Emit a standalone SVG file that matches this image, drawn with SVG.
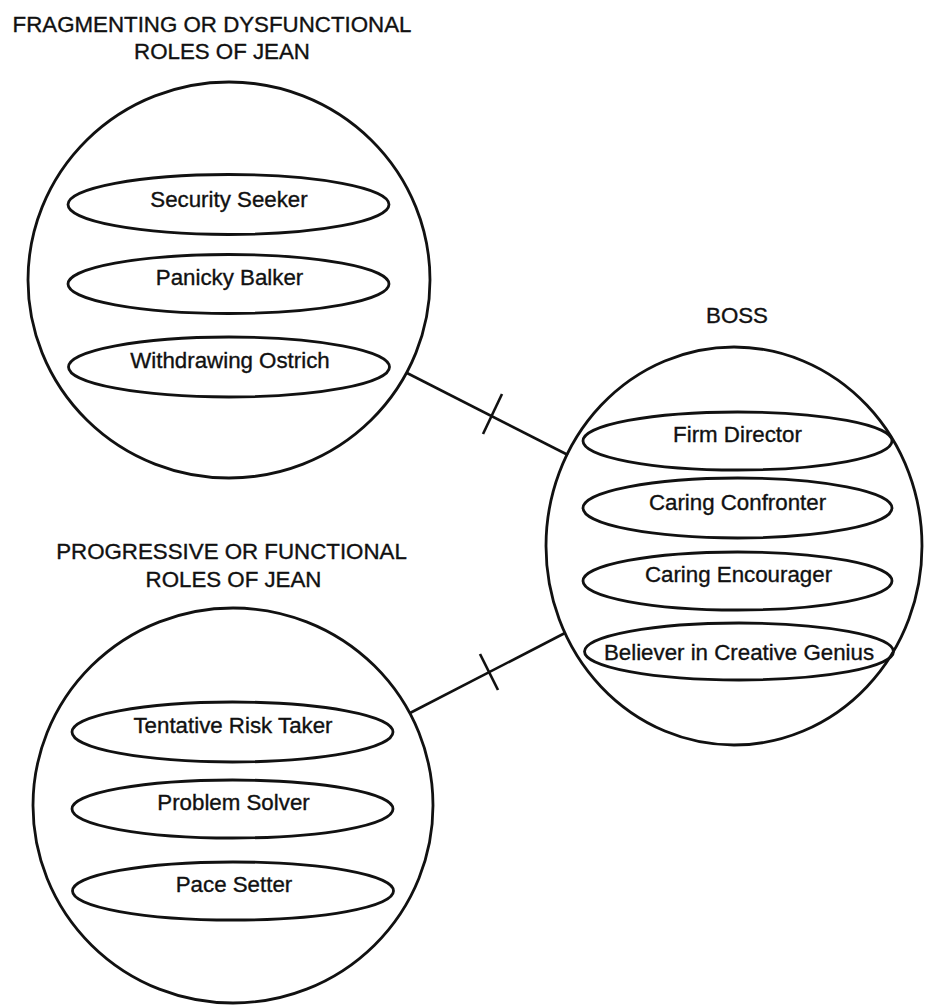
<svg xmlns="http://www.w3.org/2000/svg" width="943" height="1005" viewBox="0 0 943 1005">
<style>
  .bg { fill: #ffffff; }
  .outer { fill: none; stroke: #111; stroke-width: 2.8; }
  .role { fill: none; stroke: #111; stroke-width: 2.8; }
  .conn { fill: none; stroke: #111; stroke-width: 2.6; }
  text { font-family: "Liberation Sans", Arial, sans-serif; font-size: 22.3px; fill: #111; stroke: #111; stroke-width: 0.35; text-anchor: middle; }
</style>
<rect class="bg" x="0" y="0" width="943" height="1005"/>

<g id="connectors">
  <line class="conn" x1="407" y1="373" x2="568" y2="455"/>
  <line class="conn" x1="502" y1="394" x2="483" y2="434"/>
  <line class="conn" x1="410" y1="713" x2="565" y2="633"/>
  <line class="conn" x1="480" y1="654" x2="498" y2="690"/>
</g>

<g id="dysfunctional">
  <text x="212" y="32">FRAGMENTING OR DYSFUNCTIONAL</text>
  <text x="222" y="59">ROLES OF JEAN</text>
  <ellipse class="outer" cx="229" cy="280" rx="201" ry="198"/>
  <g id="security-seeker">
    <ellipse class="role" cx="228.5" cy="204.5" rx="160.5" ry="30"/>
    <text x="229" y="207">Security Seeker</text>
  </g>
  <g id="panicky-balker">
    <ellipse class="role" cx="228.5" cy="284" rx="160.5" ry="29.5"/>
    <text x="229.5" y="285">Panicky Balker</text>
  </g>
  <g id="withdrawing-ostrich">
    <ellipse class="role" cx="229" cy="367" rx="160.5" ry="30"/>
    <text x="230" y="368">Withdrawing Ostrich</text>
  </g>
</g>

<g id="boss">
  <text x="737" y="323">BOSS</text>
  <ellipse class="outer" cx="734" cy="546" rx="188" ry="199"/>
  <g id="firm-director">
    <ellipse class="role" cx="737.5" cy="441" rx="154.5" ry="29"/>
    <text x="737.5" y="442">Firm Director</text>
  </g>
  <g id="caring-confronter">
    <ellipse class="role" cx="737.5" cy="508" rx="154.5" ry="30"/>
    <text x="737.5" y="510">Caring Confronter</text>
  </g>
  <g id="caring-encourager">
    <ellipse class="role" cx="737.5" cy="581" rx="154.5" ry="29"/>
    <text x="738.5" y="582">Caring Encourager</text>
  </g>
  <g id="believer">
    <ellipse class="role" cx="739" cy="651.5" rx="154.5" ry="28.5"/>
    <text x="739" y="660">Believer in Creative Genius</text>
  </g>
</g>

<g id="functional">
  <text x="231.5" y="559">PROGRESSIVE OR FUNCTIONAL</text>
  <text x="233.5" y="587">ROLES OF JEAN</text>
  <ellipse class="outer" cx="233" cy="805.5" rx="200" ry="197.5"/>
  <g id="tentative-risk-taker">
    <ellipse class="role" cx="232.5" cy="732" rx="160.5" ry="30"/>
    <text x="233" y="733">Tentative Risk Taker</text>
  </g>
  <g id="problem-solver">
    <ellipse class="role" cx="232.5" cy="809" rx="160.5" ry="29"/>
    <text x="233.5" y="810">Problem Solver</text>
  </g>
  <g id="pace-setter">
    <ellipse class="role" cx="233" cy="891" rx="160.5" ry="29"/>
    <text x="234" y="892">Pace Setter</text>
  </g>
</g>
</svg>
